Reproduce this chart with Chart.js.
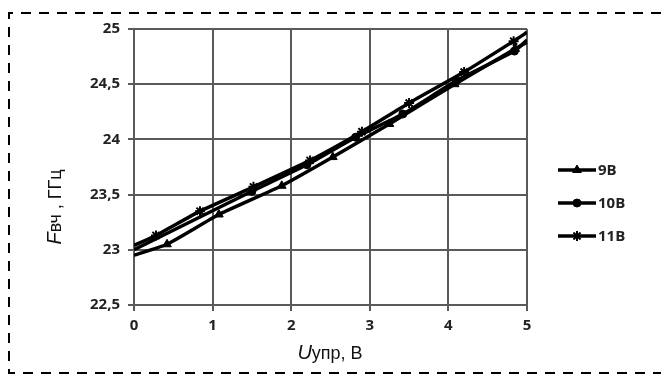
<!DOCTYPE html>
<html>
<head>
<meta charset="utf-8">
<script src="https://cdn.jsdelivr.net/npm/chart.js@4/dist/chart.umd.min.js"></script>
<style>
	body { margin: 0; background: #fff; }
	#wrap { width: 661px; height: 380px; }
</style>
</head>
<body>
<div id="wrap"><canvas id="chart" width="661" height="380"></canvas></div>
<script>
// Fвч vs Uупр for three supply voltages

const seriesNames = ['9В', '10В', '11В'];
const markers = ['triangle', 'circle', 'star'];

const u9 = [0, 0.42, 1.08, 1.88, 2.53, 3.25, 4.08, 4.85, 5];
const f9 = [22.95, 23.05, 23.32, 23.58, 23.84, 24.14, 24.5, 24.82, 24.88];

const u10 = [0, 1.5, 2.2, 2.82, 3.42, 4.1, 4.84, 5];
const f10 = [23.0, 23.53, 23.77, 24.02, 24.23, 24.53, 24.8, 24.9];

const u11 = [0, 0.28, 0.84, 1.52, 2.24, 2.9, 3.5, 4.2, 4.83, 5];
const f11 = [23.04, 23.13, 23.35, 23.57, 23.81, 24.07, 24.33, 24.61, 24.89, 24.97];

const xTicks = [0, 1, 2, 3, 4, 5];
const yTicks = [22.5, 23, 23.5, 24, 24.5, 25];

function toPoints(xs, ys) {
	return xs.map((x, i) => ({ x: x, y: ys[i] }));
}

// no markers at the line ends
function radii(xs, r) {
	return xs.map((x, i) => (i === 0 || i === xs.length - 1) ? 0 : r);
}

const allX = [u9, u10, u11];
const allY = [f9, f10, f11];
const markerSize = [5, 4, 5];

const datasets = seriesNames.map((name, k) => ({
	label: name,
	data: toPoints(allX[k], allY[k]),
	borderColor: '#000',
	backgroundColor: '#000',
	borderWidth: 3.5,
	pointStyle: markers[k],
	pointRadius: radii(allX[k], markerSize[k]),
	pointBorderWidth: k === 2 ? 2 : 1,
	tension: 0.15
}));

const labelFont = "'Open Sans', 'DejaVu Sans', sans-serif";

// dashed frame, axis titles with italic letters, custom legend
const decor = {
	id: 'decor',
	beforeDraw(chart) {
		const c = chart.ctx;
		c.save();
		c.strokeStyle = '#000';
		c.lineWidth = 2;
		c.setLineDash([10, 8]);
		c.beginPath();
		c.moveTo(661, 13);
		c.lineTo(9, 13);
		c.lineTo(9, 373);
		c.lineTo(661, 373);
		c.stroke();
		c.restore();
	},
	afterDraw(chart) {
		const c = chart.ctx;
		c.save();
		c.fillStyle = '#111';
		c.textBaseline = 'middle';

		// x title
		c.font = "italic 20px 'Liberation Sans', Arial, sans-serif";
		const uW = c.measureText('U').width;
		c.font = "18px 'Liberation Sans', Arial, sans-serif";
		const restX = 'упр, В';
		const rW = c.measureText(restX).width;
		let sx = 330 - (uW + rW) / 2;
		c.font = "italic 20px 'Liberation Sans', Arial, sans-serif";
		c.textAlign = 'left';
		c.fillText('U', sx, 353);
		c.font = "18px 'Liberation Sans', Arial, sans-serif";
		c.fillText(restX, sx + uW, 354);

		// y title
		c.translate(55, 207);
		c.rotate(-Math.PI / 2);
		c.font = "italic 20px 'Liberation Sans', Arial, sans-serif";
		const fW = c.measureText('F').width;
		c.font = "18px 'Liberation Sans', Arial, sans-serif";
		const restY = 'вч , ГГц';
		const yW = c.measureText(restY).width;
		sx = -(fW + yW) / 2;
		c.font = "italic 20px 'Liberation Sans', Arial, sans-serif";
		c.fillText('F', sx, 0);
		c.font = "18px 'Liberation Sans', Arial, sans-serif";
		c.fillText(restY, sx + fW, 1);
		c.restore();

		// legend
		c.save();
		const rows = [170, 203, 236];
		seriesNames.forEach((name, k) => {
			const y = rows[k];
			c.strokeStyle = '#000';
			c.lineWidth = 3.5;
			c.beginPath();
			c.moveTo(558, y);
			c.lineTo(596, y);
			c.stroke();
			c.fillStyle = '#000';
			c.lineWidth = k === 2 ? 2 : 1;
			Chart.helpers.drawPoint(c, {
				pointStyle: markers[k],
				radius: markerSize[k],
				borderWidth: k === 2 ? 2 : 1
			}, 577, y);
			c.fillStyle = '#222';
			c.font = "bold 15px " + labelFont;
			c.textAlign = 'left';
			c.textBaseline = 'middle';
			c.fillText(name, 598, y + 1);
		});
		c.restore();
	}
};

new Chart(document.getElementById('chart'), {
	type: 'line',
	data: { datasets: datasets },
	options: {
		responsive: false,
		animation: false,
		layout: { padding: { left: 0, top: 29, right: 134, bottom: 0 } },
		plugins: {
			legend: { display: false },
			tooltip: { enabled: false }
		},
		scales: {
			x: {
				type: 'linear',
				min: 0,
				max: 5,
				afterBuildTicks(scale) { scale.ticks = xTicks.map(v => ({ value: v })); },
				afterFit(scale) { scale.height = 75; },
				grid: { color: '#5a5a5a', lineWidth: 2, tickLength: 6 },
				border: { color: '#5a5a5a', width: 2 },
				ticks: {
					color: '#222',
					font: { family: labelFont, size: 15, weight: 'bold' },
					padding: 6
				}
			},
			y: {
				type: 'linear',
				min: 22.5,
				max: 25,
				afterBuildTicks(scale) { scale.ticks = yTicks.map(v => ({ value: v })); },
				afterFit(scale) { scale.width = 134; },
				grid: { color: '#5a5a5a', lineWidth: 2, tickLength: 6 },
				border: { color: '#5a5a5a', width: 2 },
				ticks: {
					color: '#222',
					font: { family: labelFont, size: 15, weight: 'bold' },
					padding: 8,
					callback: v => String(v).replace('.', ',')
				}
			}
		}
	},
	plugins: [decor]
});
</script>
</body>
</html>
